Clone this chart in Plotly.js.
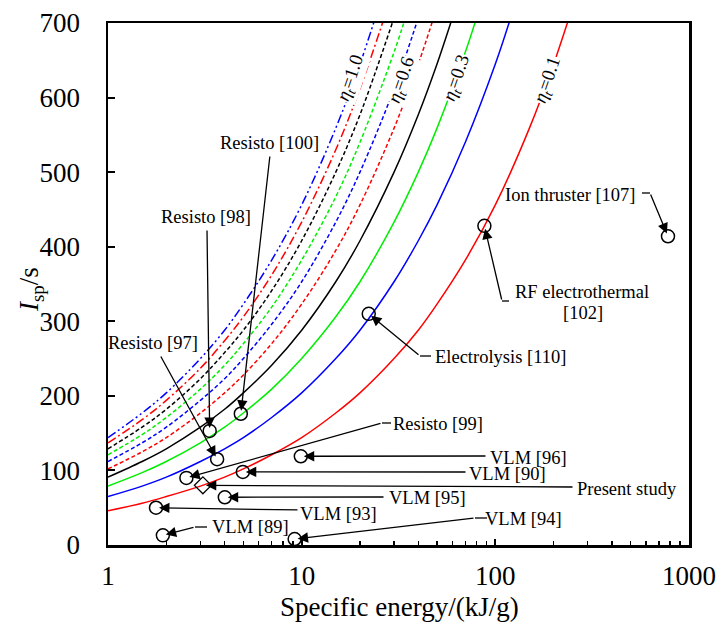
<!DOCTYPE html>
<html><head><meta charset="utf-8">
<script src="https://cdn.plot.ly/plotly-3.0.1.min.js"></script>
<style>html,body{margin:0;padding:0;background:#fff}#chart{width:721px;height:632px}</style>
</head><body><div id="chart"></div>
<script>
// ---------- curve data ----------
const E_eta01 = [1,1.5,2,3,4,5,7,10,15,20,30,40,50,70,100,150,200,250];
const I_eta01 = [46,56,65,79,91,102,121,144,177,204,250,288,323,382,456,559,645,721];
const E_eta02 = [1,1.5,2,3,4,5,7,10,15,20,30,40,50,70,100,120];
const I_eta02 = [65,79,91,112,129,144,171,204,250,288,353,408,456,540,645,707];
const E_eta03 = [1,1.5,2,3,4,5,7,10,15,20,30,40,50,70,80];
const I_eta03 = [79,97,112,137,158,177,209,250,306,353,433,500,559,661,707];
const E_eta04 = [1,1.5,2,3,4,5,7,10,15,20,30,40,50,60];
const I_eta04 = [91,112,129,158,182,204,241,288,353,408,500,577,645,707];
const E_eta05 = [1,1.5,2,3,4,5,7,10,15,20,30,40,48];
const I_eta05 = [102,125,144,177,204,228,270,323,395,456,559,645,707];
const E_eta06 = [1,1.5,2,3,4,5,7,10,15,20,30,40];
const I_eta06 = [112,137,158,194,223,250,296,353,433,500,612,707];
const E_eta07 = [1,1.5,2,3,4,5,7,10,15,20,30,35];
const I_eta07 = [121,148,171,209,241,270,319,382,467,540,661,714];
const E_eta08 = [1,1.5,2,3,4,5,7,10,15,20,30];
const I_eta08 = [129,158,182,223,258,288,341,408,500,577,707];
const E_eta09 = [1,1.5,2,3,4,5,7,10,15,20,27];
const I_eta09 = [137,168,194,237,274,306,362,433,530,612,711];
const E_eta10 = [1,1.5,2,3,4,5,7,10,15,20,24];
const I_eta10 = [144,177,204,250,288,323,382,456,559,645,707];

// ---------- thruster points ----------
const pointLabels = ['Resisto [100]','Resisto [98]','Resisto [97]','Resisto [99]','VLM [96]','VLM [90]',
  'VLM [95]','VLM [93]','VLM [89]','VLM [94]','Electrolysis [110]','RF electrothermal [102]','Ion thruster [107]'];
const pointE   = [4.85,3.35,3.66,2.54,9.9,4.97,4.01,1.77,1.92,9.2,22.2,87.8,779];
const pointIsp = [176,153,115,90,119,98,64,50,13,8,310,428,414];
const studyLabel = ['Present study'];
const studyE = [3.09];
const studyIsp = [80];

// ---------- tick labels / titles ----------
const xTickVals = [1,10,100,1000];
const xTickText = ['1','10','100','1000'];
const xMinorVals = [2,3,4,5,6,7,8,9,20,30,40,50,60,70,80,90,200,300,400,500,600,700,800,900];
const yTickVals = [0,100,200,300,400,500,600,700];
const xTitle = 'Specific energy/(kJ/g)';
const yTitle = '<i>I</i><sub>sp</sub>/s';

// ---------- layout helpers ----------
const L = 108, R = 689, T = 23, B = 545;
const W = R - L, H = B - T;
const FONT = 'Liberation Serif, Times New Roman, serif';
const px = x => (x - L) / W;
const py = y => (B - y) / H;
const dataPx = E => L + W * Math.log10(E) / 3;
const dataPy = I => B - H * I / 700;

function curve(E, I, color, dash) {
  return {x: E, y: I, type: 'scatter', mode: 'lines',
    line: {color: color, width: 1.5, dash: dash, shape: 'spline'}, hoverinfo: 'skip'};
}
const DD = '4px,2.5px';
const traces = [
  curve(E_eta01, I_eta01, '#ff0000', 'solid'),
  curve(E_eta02, I_eta02, '#0000ff', 'solid'),
  curve(E_eta03, I_eta03, '#00ee00', 'solid'),
  curve(E_eta04, I_eta04, '#000000', 'solid'),
  curve(E_eta05, I_eta05, '#ff0000', DD),
  curve(E_eta06, I_eta06, '#0000ff', DD),
  curve(E_eta07, I_eta07, '#00ee00', DD),
  curve(E_eta08, I_eta08, '#000000', DD),
  curve(E_eta09, I_eta09, '#ff0000', '9px,3px,2px,3px'),
  curve(E_eta10, I_eta10, '#0000ff', '9px,3px,2px,3px,2px,3px'),
  {x: pointE, y: pointIsp, text: pointLabels, type: 'scatter', mode: 'markers', cliponaxis: false,
    marker: {symbol: 'circle-open', size: 13, color: 'black', line: {width: 1.5, color: 'black'}}},
  {x: studyE, y: studyIsp, text: studyLabel, type: 'scatter', mode: 'markers', cliponaxis: false,
    marker: {symbol: 'diamond-open', size: 13, color: 'black', line: {width: 1.3, color: 'black'}}}
];

// callouts: text position, optional elbow segment, arrow tail (pixels)
const callouts = [
  {k: 0, text: [[269,143,'Resisto [100]']], tail: [270,155]},
  {k: 1, text: [[206,217,'Resisto [98]']], tail: [207,229]},
  {k: 2, text: [[153,343,'Resisto [97]']], tail: [160,355]},
  {k: 3, text: [[438,424,'Resisto [99]']], seg: [391,423,382,423], tail: [382,423]},
  {k: 4, text: [[528,458,'VLM [96]']], tail: [487,456]},
  {k: 5, text: [[507,474,'VLM [90]']], tail: [467,472]},
  {k: 6, text: [[427,498,'VLM [95]']], tail: [385,497]},
  {k: 7, text: [[338,514,'VLM [93]']], tail: [299,510]},
  {k: 8, text: [[250,527,'VLM [89]']], seg: [207,527,195,527], tail: [195,527]},
  {k: 9, text: [[523,519,'VLM [94]']], seg: [487,518,475,518], tail: [475,518]},
  {k: 10, text: [[500,357,'Electrolysis [110]']], seg: [431,356,420,356], tail: [420,356]},
  {k: 11, text: [[582,292,'RF electrothermal'],[583,313,'[102]']], seg: [509,301,502,301], tail: [502,301]},
  {k: 12, text: [[570,195,'Ion thruster [107]']], seg: [642,193,650,193], tail: [650,193]},
  {k: -1, text: [[627,489,'Present study']], tail: [574,487]}
];

const annFont = {family: FONT, size: 18.5, color: 'black'};
const annotations = [];
const shapes = [];
callouts.forEach(c => {
  c.text.forEach(t => annotations.push({xref: 'paper', yref: 'paper', x: px(t[0]), y: py(t[1]),
    text: t[2], showarrow: false, xanchor: 'center', yanchor: 'middle', font: annFont}));
  if (c.seg) shapes.push({type: 'line', xref: 'paper', yref: 'paper',
    x0: px(c.seg[0]), y0: py(c.seg[1]), x1: px(c.seg[2]), y1: py(c.seg[3]),
    line: {color: 'black', width: 1.3}});
  const E = c.k >= 0 ? pointE[c.k] : studyE[0];
  const I = c.k >= 0 ? pointIsp[c.k] : studyIsp[0];
  annotations.push({xref: 'x', yref: 'y', x: Math.log10(E), y: I, text: '', showarrow: true,
    axref: 'pixel', ayref: 'pixel', ax: c.tail[0] - dataPx(E), ay: c.tail[1] - dataPy(I),
    arrowhead: 2, arrowsize: 1.6, arrowwidth: 1.3, arrowcolor: 'black', standoff: 3});
});

// efficiency labels on the curves
const etaLabels = [[351,78,'1.0'],[402,80,'0.6'],[457,78,'0.3'],[548,80,'0.1']];
etaLabels.forEach(e => annotations.push({xref: 'paper', yref: 'paper', x: px(e[0]), y: py(e[1]),
  text: '<i>η</i><sub><i>t</i></sub>=' + e[2], showarrow: false, textangle: -71,
  xanchor: 'center', yanchor: 'middle', bgcolor: 'white', borderpad: 0,
  font: {family: FONT, size: 19, color: 'black'}}));

// axis titles
const titleFont = {family: FONT, size: 27, color: 'black'};
annotations.push({xref: 'paper', yref: 'paper', x: px(399), y: py(607), text: xTitle,
  showarrow: false, xanchor: 'center', yanchor: 'middle', font: titleFont});
annotations.push({xref: 'paper', yref: 'paper', x: px(31), y: py(290), text: yTitle,
  showarrow: false, xanchor: 'center', yanchor: 'middle', textangle: -90, font: titleFont});

const tickFont = {family: FONT, size: 27, color: 'black'};
const layout = {
  width: 721, height: 632,
  margin: {l: L, r: 721 - R, t: T, b: 632 - B, pad: 0},
  paper_bgcolor: 'white', plot_bgcolor: 'white', showlegend: false,
  xaxis: {type: 'log', range: [0, 3], tickmode: 'array', tickvals: xTickVals, ticktext: xTickText,
    ticks: 'inside', ticklen: 6, tickwidth: 2, tickcolor: 'black',
    showline: true, linewidth: 2.5, linecolor: 'black', mirror: true,
    showgrid: false, zeroline: false, tickfont: tickFont, ticklabelstandoff: 5,
    minor: {tickvals: xMinorVals, ticks: 'inside', ticklen: 4, tickwidth: 1.5, tickcolor: 'black', showgrid: false}},
  yaxis: {range: [0, 700], tickmode: 'array', tickvals: yTickVals,
    ticks: 'inside', ticklen: 7, tickwidth: 2, tickcolor: 'black',
    showline: true, linewidth: 2.5, linecolor: 'black', mirror: true,
    showgrid: false, zeroline: false, tickfont: tickFont, ticklabelstandoff: 20},
  annotations: annotations,
  shapes: shapes
};

Plotly.newPlot('chart', traces, layout, {staticPlot: true, displayModeBar: false});
</script>
</body></html>
